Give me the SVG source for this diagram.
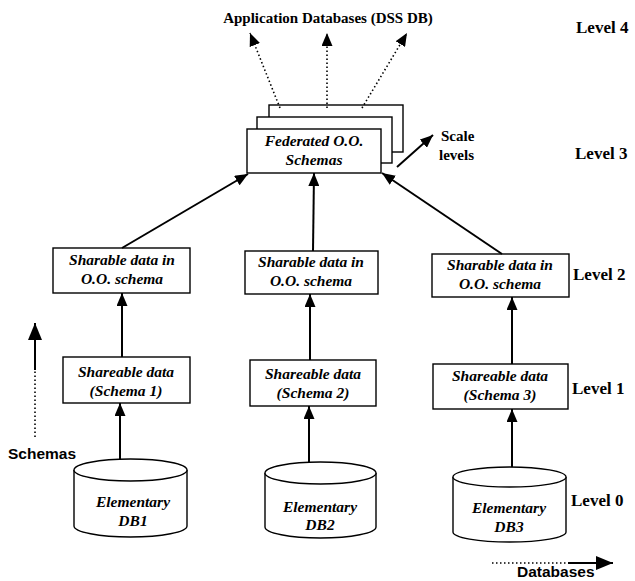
<svg xmlns="http://www.w3.org/2000/svg" width="635" height="581" viewBox="0 0 635 581">
<defs>
<style>
.box{fill:#fff;stroke:#000;stroke-width:1.4}
.t{font-family:"Liberation Serif","Times New Roman",serif;font-weight:bold;font-style:italic;font-size:15.5px;text-anchor:middle;fill:#000}
.lbl{font-family:"Liberation Serif","Times New Roman",serif;font-weight:bold;font-size:17px;fill:#000}
.sm{font-family:"Liberation Serif","Times New Roman",serif;font-weight:bold;font-size:15px;fill:#000}
.sans{font-family:"Liberation Sans",Arial,sans-serif;font-weight:bold;font-size:15.5px;fill:#000}
.ln{stroke:#000;stroke-width:2;fill:none}
.dot{stroke:#000;stroke-width:1.6;fill:none;stroke-dasharray:1.5 2.5}
</style>
<marker id="ah" markerUnits="userSpaceOnUse" markerWidth="13" markerHeight="11" refX="13" refY="5.5" orient="auto" viewBox="0 0 13 11">
<path d="M0,0 L13,5.5 L0,11 Z" fill="#000"/>
</marker>
<marker id="ahb" markerUnits="userSpaceOnUse" markerWidth="17" markerHeight="14" refX="17" refY="7" orient="auto" viewBox="0 0 17 14">
<path d="M0,0 L17,7 L0,14 Z" fill="#000"/>
</marker>
</defs>

<text class="sm" x="328" y="23" text-anchor="middle" font-size="16">Application Databases (DSS DB)</text>

<g id="levels">
<text class="lbl" x="576" y="33">Level 4</text>
<text class="lbl" x="575" y="159">Level 3</text>
<text class="lbl" x="573" y="280">Level 2</text>
<text class="lbl" x="572" y="394">Level 1</text>
<text class="lbl" x="571" y="506">Level 0</text>
</g>

<g id="federated">
<rect class="box" x="269" y="105" width="134" height="47" stroke-width="1.8"/>
<rect class="box" x="257" y="117" width="135" height="46" stroke-width="1.8"/>
<rect class="box" x="247" y="129" width="134" height="44" stroke-width="2"/>
<text class="t" x="314" y="146">Federated O.O.</text>
<text class="t" x="314" y="165">Schemas</text>
</g>

<g id="scale">
<text class="sm" x="441" y="141">Scale</text>
<text class="sm" x="439" y="160">levels</text>
</g>

<g id="l2a">
<rect class="box" x="53" y="248" width="137" height="45"/>
<text class="t" x="122" y="265">Sharable data in</text>
<text class="t" x="122" y="284">O.O. schema</text>
</g>
<g id="l2b">
<rect class="box" x="245" y="251" width="133" height="43"/>
<text class="t" x="311" y="267">Sharable data in</text>
<text class="t" x="311" y="286">O.O. schema</text>
</g>
<g id="l2c">
<rect class="box" x="432" y="254" width="137" height="43"/>
<text class="t" x="500" y="270">Sharable data in</text>
<text class="t" x="500" y="289">O.O. schema</text>
</g>

<g id="l1a">
<rect class="box" x="63" y="357" width="127" height="46"/>
<text class="t" x="126" y="377">Shareable data</text>
<text class="t" x="126" y="396">(Schema 1)</text>
</g>
<g id="l1b">
<rect class="box" x="250" y="360" width="126" height="46"/>
<text class="t" x="313" y="379">Shareable data</text>
<text class="t" x="313" y="398">(Schema 2)</text>
</g>
<g id="l1c">
<rect class="box" x="433" y="364" width="135" height="45"/>
<text class="t" x="500" y="381">Shareable data</text>
<text class="t" x="500" y="400">(Schema 3)</text>
</g>

<g id="db1">
<path class="box" d="M74,470 A56.5,11 0 0 1 187,470 L187,526 A56.5,11 0 0 1 74,526 Z"/>
<path class="box" fill="none" d="M74,470 A56.5,11 0 0 0 187,470"/>
<text class="t" x="133" y="507">Elementary</text>
<text class="t" x="133" y="526">DB1</text>
</g>
<g id="db2">
<path class="box" d="M265,473 A55.5,11 0 0 1 376,473 L376,527 A55.5,11 0 0 1 265,527 Z"/>
<path class="box" fill="none" d="M265,473 A55.5,11 0 0 0 376,473"/>
<text class="t" x="320" y="512">Elementary</text>
<text class="t" x="320" y="530">DB2</text>
</g>
<g id="db3">
<path class="box" d="M453,477 A56.5,10 0 0 1 566,477 L566,532 A56.5,10 0 0 1 453,532 Z"/>
<path class="box" fill="none" d="M453,477 A56.5,10 0 0 0 566,477"/>
<text class="t" x="509" y="513">Elementary</text>
<text class="t" x="509" y="532">DB3</text>
</g>

<g id="axes">
<text class="sans" x="8" y="459">Schemas</text>
<text class="sans" x="517" y="577">Databases</text>
</g>

<g id="connectors">
<line class="dot" x1="280" y1="108" x2="250" y2="33" marker-end="url(#ah)"/>
<line class="dot" x1="327" y1="108" x2="327" y2="33" marker-end="url(#ah)"/>
<line class="dot" x1="362" y1="108" x2="407" y2="33" marker-end="url(#ah)"/>
<line class="ln" x1="397" y1="167" x2="433" y2="135" marker-end="url(#ah)"/>
<line class="ln" x1="122" y1="248" x2="248" y2="174" marker-end="url(#ah)"/>
<line class="ln" x1="313" y1="251" x2="314" y2="173" marker-end="url(#ah)"/>
<line class="ln" x1="502" y1="254" x2="382" y2="173" marker-end="url(#ah)"/>
<line class="ln" x1="122" y1="357" x2="122" y2="293" marker-end="url(#ah)"/>
<line class="ln" x1="310" y1="360" x2="310" y2="294" marker-end="url(#ah)"/>
<line class="ln" x1="512" y1="364" x2="512" y2="297" marker-end="url(#ah)"/>
<line class="ln" x1="120" y1="459" x2="120" y2="403" marker-end="url(#ah)"/>
<line class="ln" x1="309" y1="462" x2="309" y2="406" marker-end="url(#ah)"/>
<line class="ln" x1="512" y1="467" x2="512" y2="409" marker-end="url(#ah)"/>
<line class="dot" x1="35" y1="437" x2="35" y2="370"/>
<line class="ln" x1="35" y1="370" x2="35" y2="323" marker-end="url(#ahb)"/>
<line class="dot" x1="492" y1="563" x2="568" y2="563"/>
<line class="ln" x1="568" y1="563" x2="613" y2="563" marker-end="url(#ahb)"/>
</g>
</svg>
